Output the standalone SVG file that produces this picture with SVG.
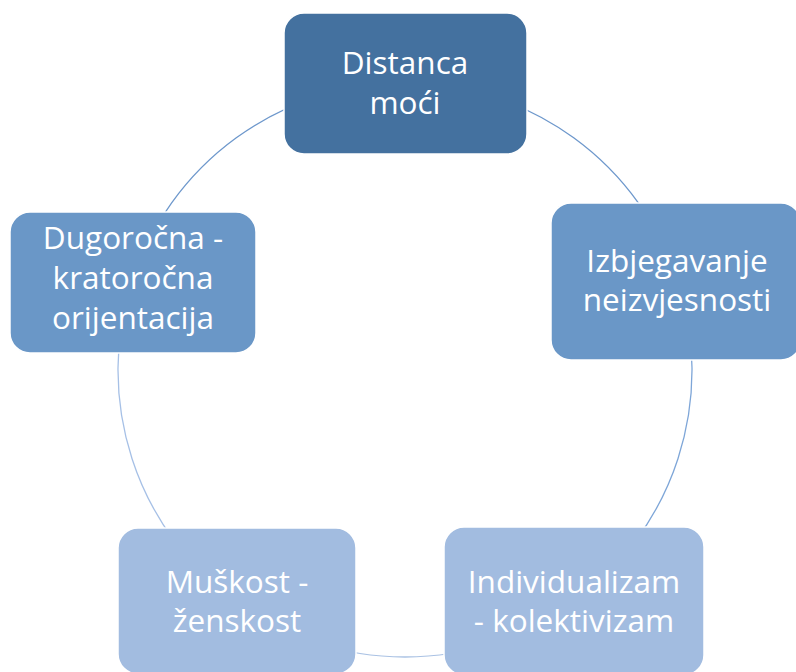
<svg xmlns="http://www.w3.org/2000/svg" width="796" height="672" viewBox="0 0 796 672">
<style>
.box{stroke:#ffffff;stroke-width:1.5}
.t{font-family:"Open Sans","Liberation Sans",sans-serif;font-size:31.5px;fill:#ffffff;text-anchor:middle}
.c{fill:none;stroke-width:1.3}
</style>
<rect width="796" height="672" fill="#ffffff"/>
<g id="connectors">
<path class="c" stroke="#6e98cc" d="M 405 83 A 287 287 0 0 1 677.96 281.32"/>
<path class="c" stroke="#7ea6d8" d="M 677.96 281.32 A 287 287 0 0 1 573.7 602.2"/>
<path class="c" stroke="#aac2e4" d="M 573.7 602.2 A 287 287 0 0 1 236.3 602.2"/>
<path class="c" stroke="#a6c0e6" d="M 236.3 602.2 A 287 287 0 0 1 132.04 281.32"/>
<path class="c" stroke="#6e98cc" d="M 132.04 281.32 A 287 287 0 0 1 405 83"/>
</g>
<g id="n1">
<rect class="box" x="284" y="13" width="243" height="141" rx="20" fill="#44719f"/>
<text class="t" x="405" y="74">Distanca</text>
<text class="t" x="405" y="114">moći</text>
</g>
<g id="n2">
<rect class="box" x="551" y="203" width="250" height="157" rx="20" fill="#6a97c7"/>
<text class="t" x="677" y="272">Izbjegavanje</text>
<text class="t" x="677" y="311">neizvjesnosti</text>
</g>
<g id="n3">
<rect class="box" x="444" y="527" width="260" height="148" rx="20" fill="#a2bce0"/>
<text class="t" x="574" y="593">Individualizam</text>
<text class="t" x="574" y="632">- kolektivizam</text>
</g>
<g id="n4">
<rect class="box" x="118" y="528" width="238" height="146" rx="20" fill="#a2bce0"/>
<text class="t" x="237" y="593">Muškost -</text>
<text class="t" x="237" y="632">ženskost</text>
</g>
<g id="n5">
<rect class="box" x="10" y="212" width="246" height="141" rx="20" fill="#6a97c7"/>
<text class="t" x="133" y="249">Dugoročna -</text>
<text class="t" x="133" y="289">kratoročna</text>
<text class="t" x="133" y="329">orijentacija</text>
</g>
</svg>
